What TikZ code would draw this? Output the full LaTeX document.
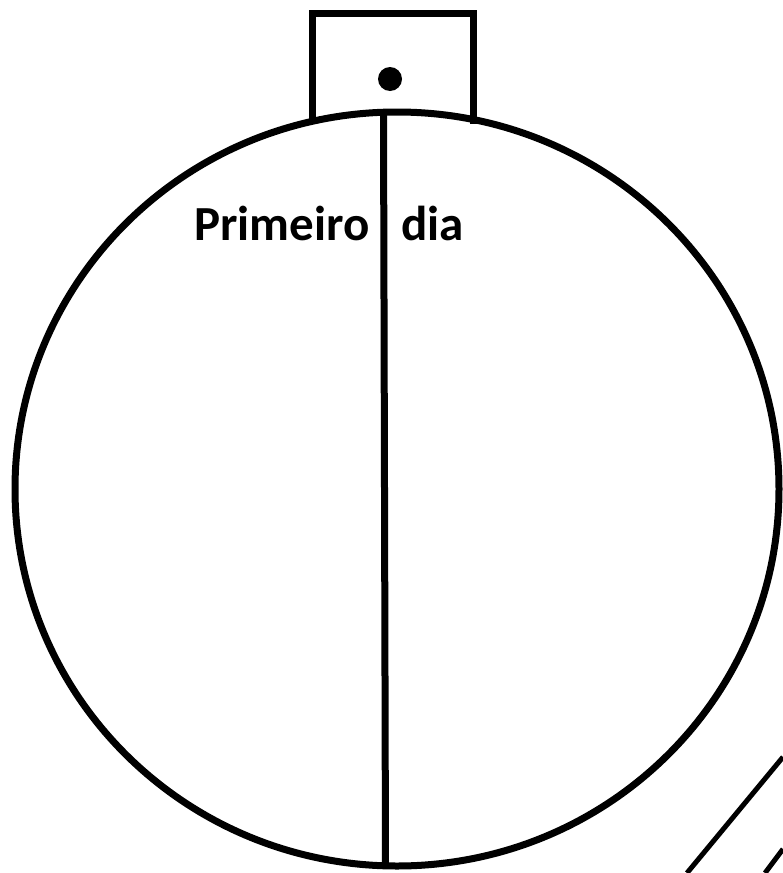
\documentclass[tikz,border=0pt]{standalone}
\usepackage{fontspec}
\newfontfamily\labelfont{Carlito}
\usetikzlibrary{calc}

\tikzset{
    contorno/.style={line width=7pt},
    scritta/.style={anchor=base west,inner sep=0pt,
        font=\labelfont\bfseries\fontsize{49}{58}\selectfont}
}

\begin{document}
\begin{tikzpicture}[x=1pt,y=-1pt]

\useasboundingbox (0,0) rectangle (783,873);

%====================================================
% Gancio in alto
%====================================================

\coordinate (GA) at (312,124);
\coordinate (GB) at (312,13);
\coordinate (GC) at (473,13);
\coordinate (GD) at (473,124);

\draw[contorno,line join=miter] (GA) -- (GB) -- (GC) -- (GD);

\coordinate (F) at (390,79);
\fill (F) circle (12);

%====================================================
% Pallina e diametro
%====================================================

\coordinate (O) at (397,489);

\draw[contorno] (O) ellipse [x radius=382,y radius=377];

\coordinate (N) at (383.5,112);
\coordinate (S) at (385.5,866);

\draw[contorno] (N) -- (S);

\node[scritta] (primeiro) at (194,240) {Primeiro};
\node[scritta] (dia) at (401,240) {dia};

%====================================================
% Tratti in basso a destra
%====================================================

\coordinate (T1) at (783,757);
\coordinate (T2) at (687,873);
\coordinate (T3) at (783,849);
\coordinate (T4) at (765,873);

\draw[line width=5pt] (T1) -- (T2);
\draw[line width=5pt] (T3) -- (T4);

\end{tikzpicture}
\end{document}
